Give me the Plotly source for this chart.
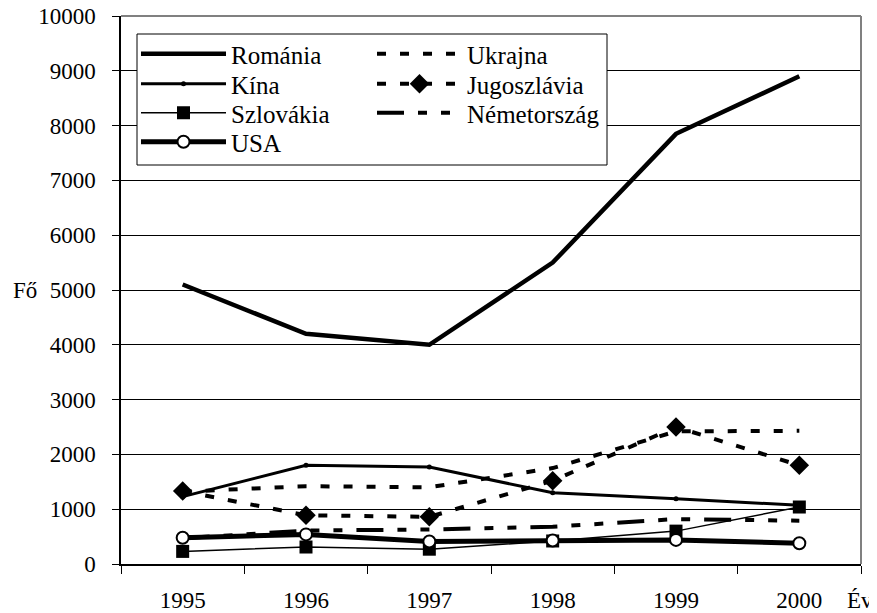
import plotly.graph_objects as go

years = ["1995", "1996", "1997", "1998", "1999", "2000"]
romania = [5100, 4200, 4000, 5500, 7850, 8900]
ukrajna = [1320, 1420, 1400, 1750, 2420, 2430]
kina = [1230, 1800, 1770, 1300, 1190, 1070]
jugoszlavia = [1330, 890, 860, 1520, 2500, 1800]
szlovakia = [230, 310, 270, 420, 600, 1040]
nemetorszag = [470, 610, 630, 680, 820, 790]
usa = [480, 540, 410, 430, 440, 380]
y_ticks = list(range(0, 10001, 1000))
y_labels = [str(v) for v in y_ticks]

FONT = "Liberation Serif"
FS = 23
LFS = 25

# page body has an 8px margin; figure is sized so the plot area lands at
# screen x 121..861, y 16..564
OFF = 8
W, H = 877 - OFF, 613 - OFF
PX0, PX1, PY0, PY1 = 121, 861, 16, 564
L, R, T, B = PX0 - OFF, (W + OFF) - PX1, PY0 - OFF, (H + OFF) - PY1
pw, ph = PX1 - PX0, PY1 - PY0


def fx(sx):
    return (sx - PX0) / pw


def fy(sy):
    return (PY1 - sy) / ph


# legend slot positions (screen px): column left edge, row centre
COLS = [136, 372]
ROWS = [54, 84, 113, 142]

series = [
    dict(name="Románia", y=romania, mode="lines", slot=(0, 0),
         line=dict(color="black", width=4.5)),
    dict(name="Kína", y=kina, mode="lines+markers", slot=(0, 1),
         line=dict(color="black", width=3),
         marker=dict(symbol="circle", size=5, color="black")),
    dict(name="Szlovákia", y=szlovakia, mode="lines+markers", slot=(0, 2),
         line=dict(color="black", width=1.5),
         marker=dict(symbol="square", size=13, color="black")),
    dict(name="Ukrajna", y=ukrajna, mode="lines", slot=(1, 0),
         line=dict(color="black", width=4, dash="9px,14px")),
    dict(name="Jugoszlávia", y=jugoszlavia, mode="lines+markers", slot=(1, 1),
         line=dict(color="black", width=4, dash="9px,14px"),
         marker=dict(symbol="diamond", size=15, color="black")),
    dict(name="Németország", y=nemetorszag, mode="lines", slot=(1, 2),
         line=dict(color="black", width=4, dash="27px,14px,9px,14px,9px,14px")),
    dict(name="USA", y=usa, mode="lines+markers", slot=(0, 3),
         line=dict(color="black", width=5),
         marker=dict(symbol="circle", size=12, color="white",
                     line=dict(color="black", width=2))),
]

fig = go.Figure()
legends = {}
for i, s in enumerate(series):
    key = "legend" if i == 0 else f"legend{i + 1}"
    kw = dict(x=years, y=s["y"], name=s["name"], mode=s["mode"],
              line=s["line"], legend=key)
    if "marker" in s:
        kw["marker"] = s["marker"]
    fig.add_trace(go.Scatter(**kw))
    c, r = s["slot"]
    legends[key] = dict(
        x=fx(COLS[c]), y=fy(ROWS[r] - 23),
        orientation="v", xanchor="left", yanchor="top",
        bgcolor="rgba(0,0,0,0)", borderwidth=0,
        itemwidth=85, font=dict(family=FONT, size=LFS, color="black"),
    )

fig.update_layout(
    width=W, height=H,
    margin=dict(l=L, r=R, t=T, b=B, autoexpand=False),
    paper_bgcolor="white", plot_bgcolor="white",
    font=dict(family=FONT, size=FS, color="black"),
    showlegend=True,
    xaxis=dict(
        type="category", tickson="boundaries",
        ticks="outside", ticklen=8, tickcolor="black", tickwidth=1,
        showline=True, linecolor="black", linewidth=1.5,
        showgrid=False, ticklabelstandoff=15, automargin=False,
        ticklabeloverflow="allow",
        tickfont=dict(family=FONT, size=FS, color="black"),
        range=[-0.5, 5.5],
    ),
    yaxis=dict(
        range=[0, 10000], tickvals=y_ticks, ticktext=y_labels,
        ticks="outside", ticklen=7, tickcolor="black", tickwidth=1,
        showline=True, linecolor="black", linewidth=1.5,
        showgrid=True, gridcolor="black", gridwidth=1,
        zeroline=False, ticklabelstandoff=12, automargin=False,
        ticklabeloverflow="allow",
        tickfont=dict(family=FONT, size=FS, color="black"),
    ),
    shapes=[
        dict(type="line", xref="paper", yref="paper", x0=0, x1=1, y0=1, y1=1,
             line=dict(color="#808080", width=2)),
        dict(type="line", xref="paper", yref="paper", x0=1, x1=1, y0=0, y1=1,
             line=dict(color="#808080", width=2)),
        dict(type="rect", xref="paper", yref="paper",
             x0=fx(137), x1=fx(607), y0=fy(165), y1=fy(34),
             fillcolor="white", line=dict(color="black", width=1), layer="above"),
    ],
    annotations=[
        dict(text="Év", xref="paper", yref="paper",
             x=fx(860), y=fy(600),
             xanchor="center", yanchor="middle", showarrow=False,
             font=dict(family=FONT, size=FS, color="black")),
        dict(text="Fő", xref="paper", yref="paper",
             x=fx(25), y=fy(290),
             xanchor="center", yanchor="middle", showarrow=False,
             font=dict(family=FONT, size=FS, color="black")),
    ],
)
fig.update_layout(**legends)

fig.write_html("out.html")
